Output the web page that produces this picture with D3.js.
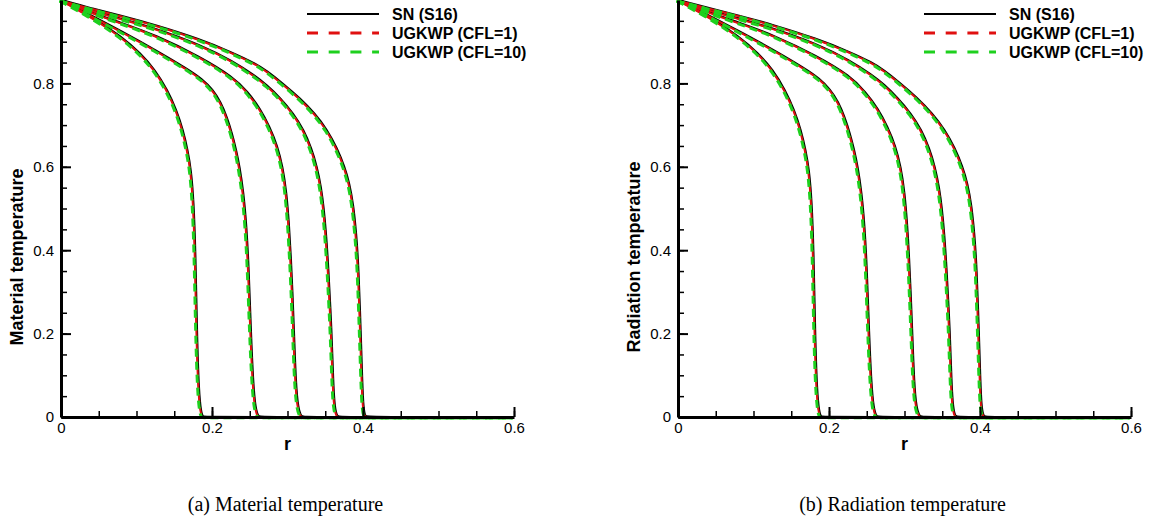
<!DOCTYPE html>
<meta charset="utf-8">
<style>
body { margin: 0; background: #fff; }
text { font-family: "Liberation Sans", Arial, sans-serif; }
.tick text { font-size: 15px; fill: #000; }
.axis-title { font-size: 18px; font-weight: bold; }
.legend text { font-size: 16px; font-weight: bold; }
.caption { font-family: "Liberation Serif", "DejaVu Serif", serif; font-size: 20px; }
</style>
<svg width="1155" height="521"></svg>
<script src="https://d3js.org/d3.v7.min.js"></script>
<script>

// legend / text
var seriesNames = ["SN (S16)", "UGKWP (CFL=1)", "UGKWP (CFL=10)"];
var yTitles = ["Material temperature", "Radiation temperature"];
var captions = ["(a)  Material temperature", "(b)  Radiation temperature"];
var xMajorTicks = [0, 0.2, 0.4, 0.6];
var yMajorTicks = [0, 0.2, 0.4, 0.6, 0.8];

// material temperature, [r, T], five times
var mat1 = [[0,1],[0.045,0.955],[0.0798,0.912],[0.1054,0.872],[0.1246,0.832],[0.1409,0.784],[0.1529,0.736],[0.1615,0.688],[0.1677,0.64],[0.1722,0.592],[0.1755,0.52],[0.178,0.40],[0.180,0.20],[0.1825,0.06],[0.1855,0.01],[0.188,0],[0.191,0],[0.6,0]];
var mat2 = [[0,1],[0.04,0.963],[0.08,0.925],[0.125,0.88],[0.1687,0.833],[0.187,0.81],[0.201,0.785],[0.2115,0.755],[0.2195,0.72],[0.2265,0.68],[0.232,0.64],[0.2365,0.60],[0.2415,0.54],[0.2455,0.46],[0.2485,0.36],[0.2515,0.20],[0.2545,0.08],[0.2575,0.02],[0.2615,0],[0.2645,0],[0.6,0]];
var mat3 = [[0,1],[0.04,0.97],[0.08,0.945],[0.125,0.916],[0.184,0.864],[0.228,0.815],[0.247,0.78],[0.2636,0.74],[0.2765,0.695],[0.2865,0.65],[0.2935,0.60],[0.2985,0.54],[0.302,0.46],[0.3045,0.38],[0.3065,0.30],[0.3086,0.20],[0.311,0.08],[0.314,0.02],[0.3185,0],[0.3215,0],[0.6,0]];
var mat4 = [[0,1],[0.04,0.975],[0.08,0.955],[0.125,0.932],[0.184,0.893],[0.228,0.853],[0.257,0.818],[0.2725,0.796],[0.29,0.766],[0.3077,0.728],[0.3215,0.688],[0.3315,0.645],[0.339,0.60],[0.3445,0.55],[0.348,0.50],[0.351,0.44],[0.354,0.36],[0.3585,0.20],[0.3605,0.08],[0.3625,0.02],[0.366,0],[0.369,0],[0.6,0]];
var mat5 = [[0,1],[0.04,0.98],[0.08,0.962],[0.125,0.94],[0.184,0.906],[0.228,0.873],[0.257,0.848],[0.2725,0.83],[0.2935,0.80],[0.3166,0.764],[0.336,0.728],[0.352,0.69],[0.3655,0.645],[0.3755,0.60],[0.382,0.56],[0.387,0.51],[0.391,0.44],[0.394,0.36],[0.397,0.20],[0.399,0.08],[0.4005,0.02],[0.403,0],[0.406,0],[0.6,0]];

// radiation temperature, [r, T], same five times
var rad1 = [[0,1],[0.045,0.956],[0.0803,0.913],[0.106,0.873],[0.1254,0.833],[0.1419,0.784],[0.154,0.736],[0.1627,0.688],[0.169,0.64],[0.1736,0.592],[0.177,0.52],[0.1795,0.40],[0.1815,0.20],[0.184,0.06],[0.187,0.01],[0.1895,0],[0.1925,0],[0.6,0]];
var rad2 = [[0,1],[0.04,0.964],[0.08,0.926],[0.125,0.882],[0.1687,0.835],[0.187,0.812],[0.2015,0.786],[0.2125,0.755],[0.2205,0.72],[0.2277,0.68],[0.2333,0.64],[0.238,0.60],[0.243,0.54],[0.247,0.46],[0.25,0.36],[0.253,0.20],[0.256,0.08],[0.259,0.02],[0.263,0],[0.266,0],[0.6,0]];
var rad3 = [[0,1],[0.04,0.971],[0.08,0.946],[0.125,0.917],[0.184,0.866],[0.228,0.818],[0.248,0.78],[0.2648,0.74],[0.2778,0.695],[0.2879,0.65],[0.295,0.60],[0.3,0.54],[0.3036,0.46],[0.3061,0.38],[0.3081,0.30],[0.3103,0.20],[0.3127,0.08],[0.3157,0.02],[0.3205,0],[0.3235,0],[0.6,0]];
var rad4 = [[0,1],[0.04,0.976],[0.08,0.956],[0.125,0.933],[0.184,0.895],[0.228,0.855],[0.257,0.82],[0.2725,0.798],[0.2905,0.766],[0.3085,0.728],[0.3225,0.688],[0.3327,0.645],[0.3403,0.60],[0.3459,0.55],[0.3495,0.50],[0.3526,0.44],[0.3556,0.36],[0.3602,0.20],[0.3622,0.08],[0.3642,0.02],[0.3675,0],[0.3705,0],[0.6,0]];
var rad5 = [[0,1],[0.04,0.981],[0.08,0.963],[0.125,0.941],[0.184,0.907],[0.228,0.875],[0.257,0.85],[0.2725,0.832],[0.2935,0.802],[0.3166,0.766],[0.3368,0.728],[0.353,0.69],[0.3667,0.645],[0.3768,0.60],[0.3834,0.56],[0.3885,0.51],[0.3925,0.44],[0.3955,0.36],[0.3985,0.20],[0.4005,0.08],[0.402,0.02],[0.405,0],[0.408,0],[0.6,0]];

var matCurves = [mat1, mat2, mat3, mat4, mat5];
var radCurves = [rad1, rad2, rad3, rad4, rad5];

var svg = d3.select("svg");
var plotW = 453, plotH = 417;

var styles = [
  {color: "#000", width: 2.2, dash: null, dx: 0, dy: 0},
  {color: "#e01010", width: 2, dash: "8,5", offset: 6, dx: -0.6, dy: 0.4},
  {color: "#1ed01e", width: 3, dash: "8,5", offset: 0, dx: -1.3, dy: 0.8}
];

function drawPanel(left, curves, yTitle, caption) {
  var g = svg.append("g").attr("transform", "translate(" + left + ",0)");

  var x = d3.scaleLinear().domain([0, 0.6]).range([0, plotW]);
  var y = d3.scaleLinear().domain([0, 1]).range([plotH, 0]);

  var line = d3.line()
      .x(function(d) { return x(d[0]); })
      .y(function(d) { return y(d[1]); })
      .curve(d3.curveBasis);

  styles.forEach(function(s) {
    g.append("g")
        .attr("transform", "translate(" + s.dx + "," + s.dy + ")")
      .selectAll("path")
      .data(curves)
      .enter().append("path")
        .attr("d", line)
        .attr("fill", "none")
        .attr("stroke", s.color)
        .attr("stroke-width", s.width)
        .attr("stroke-dasharray", s.dash)
        .attr("stroke-dashoffset", s.offset || 0);
  });

  // minor ticks
  var minorX = d3.range(0, 0.6001, 0.05);
  var minorY = d3.range(0, 0.9501, 0.05);
  g.append("g")
      .attr("transform", "translate(0," + plotH + ")")
      .call(d3.axisBottom(x).tickValues(minorX).tickSize(-6).tickFormat(""))
      .call(function(a) { a.select(".domain").remove(); a.selectAll("line").attr("stroke-width", 1.5); });
  g.append("g")
      .call(d3.axisLeft(y).tickValues(minorY).tickSize(-6).tickFormat(""))
      .call(function(a) { a.select(".domain").remove(); a.selectAll("line").attr("stroke-width", 1.5); });

  // major axes
  g.append("g")
      .attr("transform", "translate(0," + plotH + ")")
      .call(d3.axisBottom(x).tickValues(xMajorTicks).tickSize(-10).tickSizeOuter(0).tickPadding(5)
        .tickFormat(function(d) { return d === 0 ? "0" : d3.format(".1f")(d); }))
      .call(function(a) {
        a.select(".domain").attr("stroke-width", 3);
        a.selectAll("line").attr("stroke-width", 2);
        a.selectAll("text").attr("font-family", null).attr("font-size", null);
      });
  g.append("g")
      .call(d3.axisLeft(y).tickValues(yMajorTicks).tickSize(-10).tickSizeOuter(0).tickPadding(7)
        .tickFormat(function(d) { return d === 0 ? "0" : d3.format(".1f")(d); }))
      .call(function(a) {
        a.select(".domain").attr("stroke-width", 3);
        a.selectAll("line").attr("stroke-width", 2);
        a.selectAll("text").attr("font-family", null).attr("font-size", null);
      });

  // titles
  g.append("text")
      .attr("class", "axis-title")
      .attr("text-anchor", "middle")
      .attr("x", plotW / 2)
      .attr("y", 450)
      .text("r");
  g.append("text")
      .attr("class", "axis-title")
      .attr("text-anchor", "middle")
      .attr("transform", "translate(-38," + 257 + ") rotate(-90)")
      .text(yTitle);
  g.append("text")
      .attr("class", "caption")
      .attr("text-anchor", "middle")
      .attr("x", plotW / 2 - 2)
      .attr("y", 511)
      .text(caption);

  // legend
  var leg = g.append("g").attr("class", "legend");
  styles.forEach(function(s, i) {
    var ly = 14 + i * 19;
    leg.append("line")
        .attr("x1", 246).attr("x2", 318)
        .attr("y1", ly).attr("y2", ly)
        .attr("stroke", s.color)
        .attr("stroke-width", i === 0 ? 2.2 : 3)
        .attr("stroke-dasharray", s.dash ? "11,10.7" : null);
    leg.append("text")
        .attr("x", 331)
        .attr("y", ly + 6)
        .text(seriesNames[i]);
  });
}

drawPanel(61, matCurves, yTitles[0], captions[0]);
drawPanel(678, radCurves, yTitles[1], captions[1]);

</script>
